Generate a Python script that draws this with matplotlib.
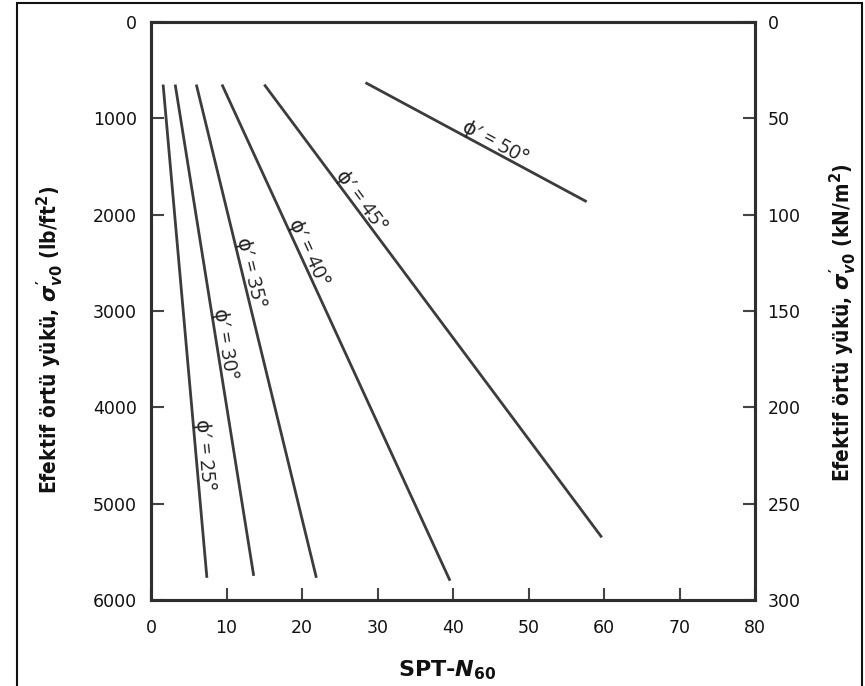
import numpy as np
import matplotlib.pyplot as plt
from matplotlib.patches import Rectangle

# ------------------------------------------------------------------
# Data: friction-angle lines, SPT-N60 vs effective overburden stress
# ------------------------------------------------------------------
phi_deg = [25, 30, 35, 40, 45, 50]
n60_start = [1.6, 3.2, 6.0, 9.4, 15.0, 28.4]
n60_end   = [7.4, 13.6, 21.9, 39.6, 59.7, 57.7]
sig_start = [650, 650, 650, 650, 650, 630]      # lb/ft^2
sig_end   = [5770, 5750, 5770, 5800, 5350, 1866]
label_sig = [4500, 3350, 2620, 2430, 1910, 1330]  # where each label sits

x_ticks  = [0, 10, 20, 30, 40, 50, 60, 70, 80]
yl_ticks = [0, 1000, 2000, 3000, 4000, 5000, 6000]
yr_ticks = [0, 50, 100, 150, 200, 250, 300]

plt.rcParams['mathtext.fontset'] = 'custom'
plt.rcParams['mathtext.rm'] = 'DejaVu Sans:bold'
plt.rcParams['mathtext.it'] = 'DejaVu Sans:italic:bold'
plt.rcParams['mathtext.bf'] = 'DejaVu Sans:bold'

line_c = '#3c3c3c'
tick_c = '#111111'

fig = plt.figure(figsize=(8.65, 6.86), dpi=100)
ax = fig.add_axes([0.1746, 0.1254, 0.6983, 0.8426])

ax.set_xlim(0, 80)
ax.set_ylim(6000, 0)

for n0, n1, s0, s1 in zip(n60_start, n60_end, sig_start, sig_end):
    ax.plot([n0, n1], [s0, s1], color=line_c, lw=2.0, solid_capstyle='butt')

# labels along each line
for ph, n0, n1, s0, s1, sl in zip(phi_deg, n60_start, n60_end,
                                  sig_start, sig_end, label_sig):
    p0 = ax.transData.transform((n0, s0))
    p1 = ax.transData.transform((n1, s1))
    ang = np.degrees(np.arctan2(p1[1] - p0[1], p1[0] - p0[0]))
    nl = n0 + (n1 - n0) * (sl - s0) / (s1 - s0)
    off = 2.0
    nx, ny = -np.sin(np.radians(ang)) * off, np.cos(np.radians(ang)) * off
    ax.annotate(f"ϕ′ = {ph}°", xy=(nl, sl), xytext=(nx, ny),
                textcoords='offset points', rotation=ang,
                rotation_mode='anchor', ha='center', va='baseline',
                fontsize=14.5, family=['Open Sans', 'DejaVu Sans'],
                color='#222222')

ax.set_xticks(x_ticks)
ax.set_yticks(yl_ticks)
ax.tick_params(axis='both', direction='in', length=9, width=1.5,
               color='#444444', labelsize=12.5, labelcolor=tick_c)
ax.tick_params(axis='x', pad=14)
ax.tick_params(axis='y', pad=10)
ax.tick_params(top=False)

axr = ax.twinx()
axr.set_ylim(300, 0)
axr.set_yticks(yr_ticks)
axr.tick_params(axis='y', direction='in', length=9, width=1.5,
                color='#444444', labelsize=12.5, labelcolor=tick_c, pad=9)

for a in (ax, axr):
    for sp in a.spines.values():
        sp.set_linewidth(2.2)
        sp.set_color('#2e2e2e')

lab_kw = dict(rotation=90, ha='center', va='center', fontsize=15,
              family='DejaVu Sans', fontstretch='condensed',
              fontweight='bold', color='#111111')
fig.text(50 / 865, 1 - 340 / 686,
         r"Efektif örtü yükü, $\sigma^{\prime}_{v0}$ (lb/ft$^2$)", **lab_kw)
fig.text(843 / 865, 1 - 323 / 686,
         r"Efektif örtü yükü, $\sigma^{\prime}_{v0}$ (kN/m$^2$)", **lab_kw)
fig.text(447 / 865, 1 - 670 / 686, r"SPT-$\mathit{N}_{\mathbf{60}}$",
         ha='center', va='center', fontsize=16, fontweight='bold',
         family='DejaVu Sans', color='#111111')

# outer frame
fig.add_artist(Rectangle((17 / 865, -0.05), (862 - 17) / 865, 1.05 - 3 / 686,
                         transform=fig.transFigure, fill=False,
                         edgecolor='#111111', lw=1.5))

fig.savefig("out.png", dpi=100)
